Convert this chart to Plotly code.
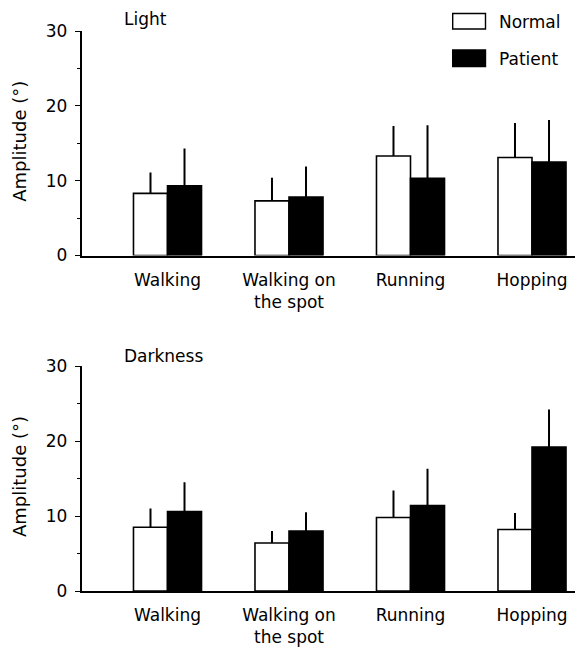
import plotly.graph_objects as go

categories = ["Walking", "Walking on<br>the spot", "Running", "Hopping"]

light_normal = [8.3, 7.3, 13.3, 13.1]
light_normal_sd = [2.8, 3.1, 4.0, 4.6]
light_patient = [9.3, 7.8, 10.3, 12.5]
light_patient_sd = [5.0, 4.1, 7.1, 5.6]

dark_normal = [8.5, 6.4, 9.8, 8.2]
dark_normal_sd = [2.5, 1.6, 3.6, 2.2]
dark_patient = [10.6, 8.0, 11.4, 19.2]
dark_patient_sd = [3.9, 2.5, 4.9, 5.0]

y_ticks = [0, 10, 20, 30]
panel_titles = ["Light", "Darkness"]
legend_labels = ["Normal", "Patient"]

W, H = 575, 650
FONT = "DejaVu Sans"
FS = 17

def px_x(x):
    return x / W

def px_y(y):
    return 1 - y / H

fig = go.Figure()

xpos = list(range(len(categories)))

def add_pair(normal, nsd, patient, psd, xa, ya):
    fig.add_trace(go.Bar(
        x=xpos, y=normal, name=legend_labels[0], xaxis=xa, yaxis=ya,
        marker=dict(color="white", line=dict(color="black", width=1.6)),
        error_y=dict(type="data", symmetric=False, array=nsd,
                     arrayminus=[0] * len(nsd), width=0, thickness=2, color="black"),
        offsetgroup="n", showlegend=False, hoverinfo="skip"))
    fig.add_trace(go.Bar(
        x=xpos, y=patient, name=legend_labels[1], xaxis=xa, yaxis=ya,
        marker=dict(color="black", line=dict(color="black", width=1.6)),
        error_y=dict(type="data", symmetric=False, array=psd,
                     arrayminus=[0] * len(psd), width=0, thickness=2, color="black"),
        offsetgroup="p", showlegend=False, hoverinfo="skip"))

add_pair(light_normal, light_normal_sd, light_patient, light_patient_sd, "x", "y")
add_pair(dark_normal, dark_normal_sd, dark_patient, dark_patient_sd, "x2", "y2")

axis_left = 81.5
centre0 = 167.5
spacing = 121.5
xr = [(axis_left - centre0) / spacing, (W - centre0) / spacing]

top_panel = (31, 255.5)
bot_panel = (366, 591)

xcommon = dict(
    range=xr, tickmode="array", tickvals=xpos, ticktext=categories,
    showline=True, linecolor="black", linewidth=1.6, ticks="",
    showgrid=False, zeroline=False, ticklabelstandoff=8, automargin=False,
    tickfont=dict(family=FONT, size=FS, color="black"),
    domain=[px_x(axis_left), 1], fixedrange=True,
)
ycommon = dict(
    range=[0, 30], tickvals=y_ticks, showline=True, linecolor="black",
    linewidth=1.6, ticks="outside", ticklen=5, tickwidth=1.4, tickcolor="black",
    minor=dict(dtick=5, ticks="outside", ticklen=3, tickwidth=1.2, tickcolor="black"),
    showgrid=False, zeroline=False, ticklabelstandoff=4, automargin=False,
    tickfont=dict(family=FONT, size=FS, color="black"), fixedrange=True,
)

fig.update_layout(
    width=W, height=H, margin=dict(l=0, r=0, t=0, b=0, autoexpand=False),
    paper_bgcolor="white", plot_bgcolor="white",
    barmode="group", bargap=0.44, bargroupgap=0,
    font=dict(family=FONT, size=FS, color="black"),
    xaxis=dict(**xcommon, anchor="y"),
    yaxis=dict(**ycommon, anchor="x",
               domain=[px_y(top_panel[1]), px_y(top_panel[0])]),
    xaxis2=dict(**xcommon, anchor="y2"),
    yaxis2=dict(**ycommon, anchor="x2",
                domain=[px_y(bot_panel[1]), px_y(bot_panel[0])]),
)

annotations = []
for title, (t0, t1), cy in [(panel_titles[0], top_panel, 19), (panel_titles[1], bot_panel, 355.5)]:
    annotations.append(dict(
        text=title, xref="paper", yref="paper", x=px_x(122), y=px_y(cy),
        xanchor="left", yanchor="middle", showarrow=False,
        font=dict(family=FONT, size=FS, color="black")))
    annotations.append(dict(
        text="Amplitude (°)", xref="paper", yref="paper", x=px_x(19.5),
        y=px_y((t0 + t1) / 2 - 2), xanchor="center", yanchor="middle",
        textangle=-90, showarrow=False,
        font=dict(family=FONT, size=18, color="black")))

# legend
shapes = []
for lbl, fill, (y0, y1), cy in [(legend_labels[0], "white", (13.5, 29), 21.7),
                                (legend_labels[1], "black", (50, 66.5), 59)]:
    shapes.append(dict(type="rect", xref="paper", yref="paper",
                       x0=px_x(452.7), x1=px_x(485.5), y0=px_y(y1), y1=px_y(y0),
                       fillcolor=fill, line=dict(color="black", width=1.4)))
    annotations.append(dict(
        text=lbl, xref="paper", yref="paper", x=px_x(497), y=px_y(cy),
        xanchor="left", yanchor="middle", showarrow=False,
        font=dict(family=FONT, size=FS, color="black")))

fig.update_layout(annotations=annotations, shapes=shapes)

fig.write_html(
    "out.html",
    config={"displayModeBar": False},
    post_script="document.body.style.margin='0';document.body.style.overflow='hidden';",
)
